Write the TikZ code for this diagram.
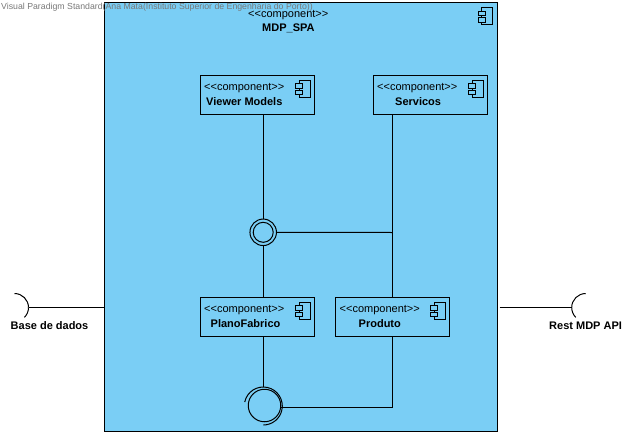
\documentclass[tikz,border=0pt]{standalone}
\usepackage{fontspec}
\setmainfont{Liberation Sans}
\definecolor{compblue}{RGB}{122,206,245}
\definecolor{markgray}{RGB}{120,120,120}
\newcommand{\compst}{{<}{<}component{>}{>}}
\tikzset{
  x=1pt,y=-1pt,
  wire/.style={draw=black,line width=1pt},
  outerbox/.style={draw=black,line width=1pt,fill=compblue,inner sep=0pt,outer sep=0pt,minimum width=392.5pt,minimum height=428.5pt},
  compbox/.style={draw=black,line width=1pt,fill=compblue,inner sep=0pt,outer sep=0pt,minimum width=114pt,minimum height=39pt},
  stereo/.style={font=\fontsize{11}{13}\selectfont,anchor=base west,inner sep=0pt},
  title/.style={font=\fontsize{11}{13}\bfseries\selectfont,anchor=base west,inner sep=0pt},
  ring/.style={circle,draw=black,line width=1pt,inner sep=0pt,outer sep=0pt,fill=compblue},
  icon/.pic={
    \draw[wire] (-11,0) rectangle (0,17);
    \draw[wire,fill=compblue] (-14.5,3.5) rectangle (-7.5,8);
    \draw[wire,fill=compblue] (-14.5,10) rectangle (-7.5,14.5);
  }
}
\begin{document}
\begin{tikzpicture}
\useasboundingbox (0,0) rectangle (636,436);
\node[outerbox,anchor=north west] (main) at (104.5,2.5) {};
\pic at (492.5,8) {icon};
\node[stereo] (mainst) at (248,17.5) {\compst};
\node[title] (maint) at (262,32) {MDP\_SPA};
% watermark
\node[anchor=base west,inner sep=0pt,text=markgray,font=\fontsize{8.75}{10}\selectfont] (mark) at (1,9.5) {Visual Paradigm Standard(Ana Mata(Instituto Superior de Engenharia do Porto))};
% components
\node[compbox,anchor=north west] (viewer) at (200.5,75.5) {};
\node[compbox,anchor=north west] (serv) at (373.5,75.5) {};
\node[compbox,anchor=north west] (plano) at (200.5,297.5) {};
\node[compbox,anchor=north west] (prod) at (335.5,297.5) {};
\pic at (310,80) {icon};
\pic at (483,80) {icon};
\pic at (310,302) {icon};
\pic at (445,302) {icon};
\node[stereo] (viewerst) at (204,90) {\compst};
\node[title] (viewert) at (206,105) {Viewer Models};
\node[stereo] (servst) at (377,90) {\compst};
\node[title] (servt) at (395,105) {Servicos};
\node[stereo] (planost) at (204,312) {\compst};
\node[title] (planot) at (210.5,327) {PlanoFabrico};
\node[stereo] (prodst) at (339.5,312) {\compst};
\node[title] (prodt) at (358.5,327) {Produto};
% rings
\node[ring,minimum size=26.5pt] (ringa) at (263.2,232.3) {};
\node[ring,minimum size=20pt] (ringai) at (263.2,232.3) {};
\node[ring,minimum size=32.5pt,anchor=center] (ringb) at (264.5,405.5) {};
\draw[wire] (263.3,406) ++(168:19pt) arc[start angle=168,end angle=-90,radius=19pt];
\coordinate (tee) at (392.5,232.5);
\coordinate (corner) at (392.5,407.5);
\coordinate (leftsock) at (28.5,307.5);
\coordinate (rightsock) at (571.7,307.5);
\coordinate (mainr) at (499.5,307.5);
% connectors
\draw[wire] (viewer.south -| ringa) -- (ringa.north);
\draw[wire] (ringa.south) -- (plano.north -| ringa);
\draw[wire] (ringa.east) -- (tee);
\draw[wire] (serv.south -| tee) -- (prod.north -| tee);
\draw[wire] (plano.south -| ringa) -- (263.2,387);
\draw[wire] (ringb.east |- corner) -- (corner) -- (prod.south -| corner);
\draw[wire] (leftsock) -- (main.west |- leftsock);
\draw[wire] (mainr) -- (rightsock);
% sockets
\draw[wire] (leftsock) arc[start angle=0,end angle=90,radius=14pt];
\draw[wire] (leftsock) arc[start angle=0,end angle=-45,radius=14pt];
\draw[wire] (rightsock) arc[start angle=180,end angle=90,radius=14pt];
\draw[wire] (rightsock) arc[start angle=180,end angle=225,radius=14pt];
\node[title] (base) at (10.5,329) {Base de dados};
\node[title] (rest) at (549,329) {Rest MDP API};
\end{tikzpicture}
\end{document}
